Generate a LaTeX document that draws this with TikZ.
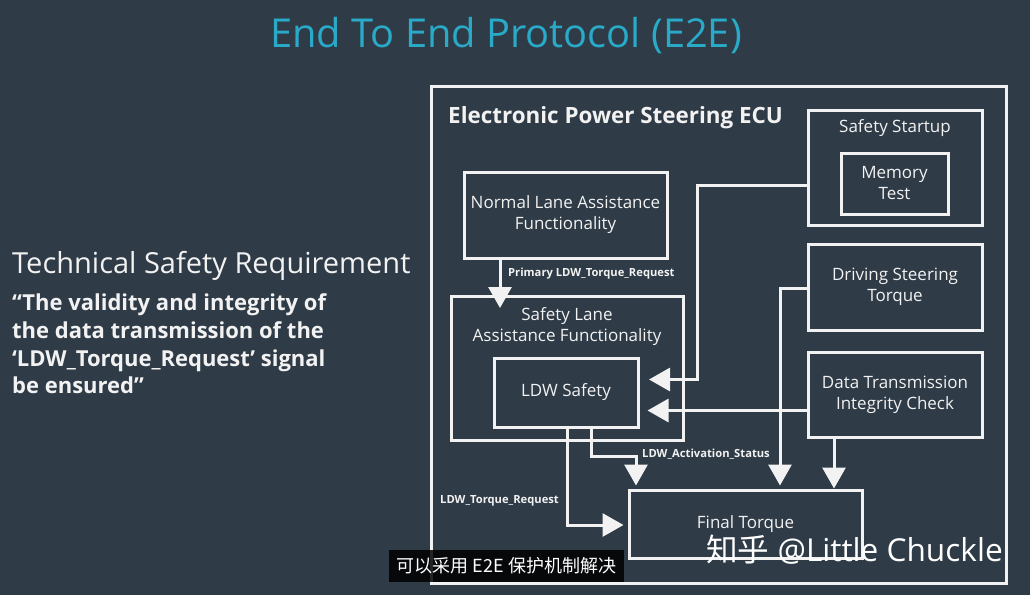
\documentclass[tikz,border=0pt]{standalone}
\usepackage{fontspec}
\setmainfont{Open Sans}
\newfontfamily\cjkfont{Noto Sans CJK SC}
\usetikzlibrary{arrows.meta,calc}
\definecolor{bgc}{RGB}{47,59,71}
\definecolor{titlec}{RGB}{40,170,200}
\definecolor{fgc}{RGB}{242,242,242}
\tikzset{
  blk/.style={draw=fgc,line width=3pt,fill=none,inner sep=2pt,align=center,text=fgc,font=\fontsize{17}{21}\selectfont},
  arr/.style={draw=fgc,line width=3pt,-{Triangle[width=23pt,length=21pt]}},
  lbl/.style={text=fgc,font=\bfseries\fontsize{11.2}{13}\selectfont,inner sep=0pt},
  quote/.style={anchor=base west,text=fgc,font=\bfseries\fontsize{22}{26}\selectfont,inner sep=0pt},
}
\begin{document}
\begin{tikzpicture}[x=1pt,y=-1pt]
\fill[bgc] (0,0) rectangle (1030,595);
\useasboundingbox (0,0) rectangle (1030,595);
% title
\node[text=titlec,font=\fontsize{39.8}{48}\selectfont] (title) at (506,36) {End To End Protocol (E2E)};
% left text
\node[anchor=base west,text=fgc,font=\fontsize{29}{34}\selectfont,inner sep=0pt] (tsr) at (12,273) {Technical Safety Requirement};
\node[quote] (q1) at (12,310) {“The validity and integrity of};
\node[quote] (q2) at (12,338) {the data transmission of the};
\node[quote] (q3) at (12,366) {‘LDW\_Torque\_Request’ signal};
\node[quote] (q4) at (12,393) {be ensured”};
% ECU
\node[blk,minimum width=575pt,minimum height=497pt] (ecu) at (718.5,334.5) {};
\node[anchor=west,text=fgc,font=\bfseries\fontsize{22.4}{26}\selectfont,inner sep=0pt] (ecut) at (448,118) {Electronic Power Steering ECU};
% boxes
\node[blk,minimum width=174pt,minimum height=115pt] (startup) at (895,167.5) {};
\node[text=fgc,font=\fontsize{17}{21}\selectfont] (startupt) at (895,128) {Safety Startup};
\node[blk,minimum width=107pt,minimum height=61pt] (memory) at (894.5,183.5) {Memory\\Test};
\node[blk,minimum width=203pt,minimum height=86pt] (normal) at (565.5,215) {Normal Lane Assistance\\Functionality};
\node[blk,minimum width=174pt,minimum height=86pt] (driving) at (895,287) {Driving Steering\\Torque};
\node[blk,minimum width=232pt,minimum height=144pt] (safety) at (567,368) {};
\node[text=fgc,font=\fontsize{17}{21}\selectfont,align=center] (safetyt) at (567,327) {Safety Lane\\Assistance Functionality};
\node[blk,minimum width=144pt,minimum height=69pt] (ldw) at (566,392.5) {LDW Safety};
\node[blk,minimum width=174pt,minimum height=85pt] (dtic) at (895,394.5) {Data Transmission\\Integrity Check};
\node[blk,minimum width=233pt,minimum height=68pt] (final) at (745.5,524) {Final Torque};
% arrows
\coordinate (t1) at (500,308);
\draw[arr] (normal.south -| t1) -- (t1);
\node[lbl,anchor=west] (l1) at (508,274) {Primary LDW\_Torque\_Request};
\coordinate (t2) at (649,379.5);
\draw[arr] ([yshift=-17.5pt]startup.west) -- ++(-109,0) |- (t2);
\draw[arr] ([yshift=-16pt]dtic.west) -- ++(-159,0);
\draw[arr] ([yshift=-1pt]driving.west) -| ([xshift=34.5pt,yshift=3pt]final.north);
\draw[arr] ([xshift=-61pt]dtic.south) -- ++(0,50);
\draw[arr] ([xshift=25pt]ldw.south) -- ++(0,28) -| ([xshift=-109.5pt,yshift=3pt]final.north);
\node[lbl,anchor=west] (l2) at (642,454) {LDW\_Activation\_Status};
\draw[arr] ([xshift=1pt]ldw.south) |- ([xshift=-4pt,yshift=-1pt]final.west);
\node[lbl,anchor=west] (l3) at (440,501) {LDW\_Torque\_Request};
% overlays
\node[fill=black,fill opacity=0.85,text opacity=1,text=white,minimum width=235pt,minimum height=32pt,inner sep=0pt,font=\cjkfont\fontsize{18}{21}\selectfont] (sub) at (506.5,566) {可以采用 E2E 保护机制解决};
\node[anchor=west,text=white,inner sep=0pt,font=\fontsize{31.6}{38}\selectfont] (wm) at (706,550) {{\cjkfont 知乎} @Little Chuckle};
\end{tikzpicture}
\end{document}
